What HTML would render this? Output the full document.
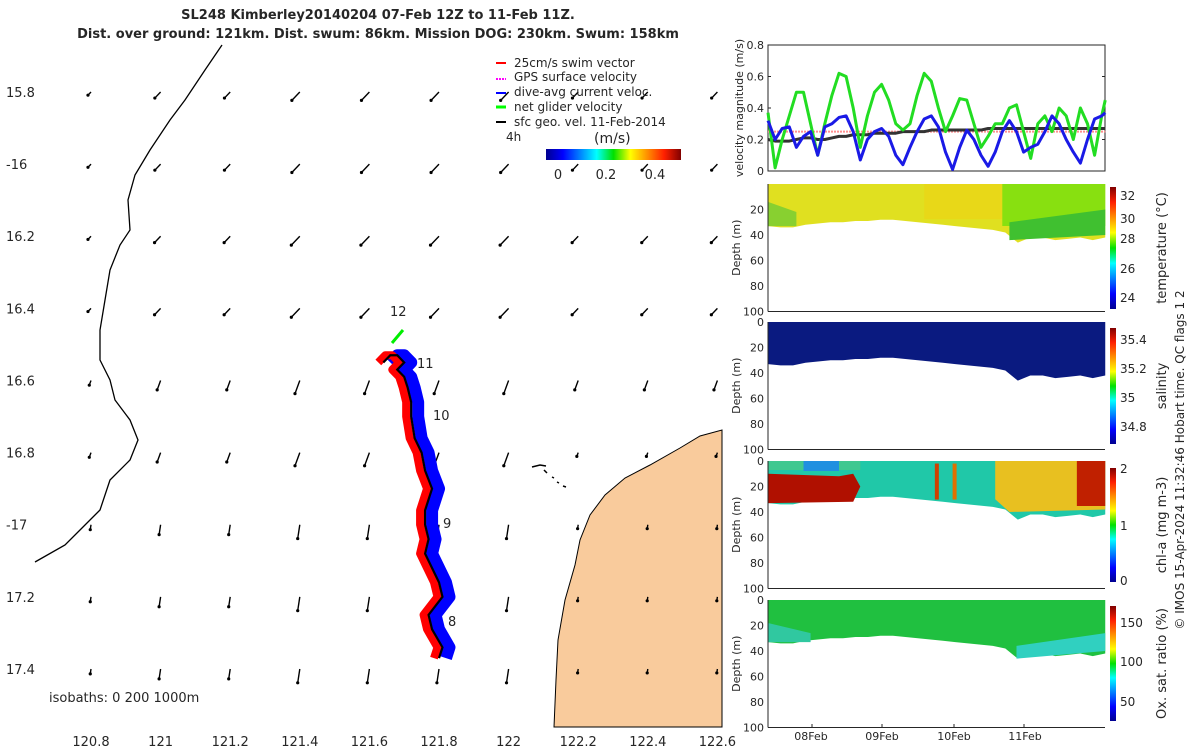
<!DOCTYPE html>
<html><head><meta charset="utf-8"><style>
body{margin:0;background:#fff;}
svg text{font-family:"DejaVu Sans","Liberation Sans",sans-serif;fill:#262626;}
</style></head><body>
<svg id="chart" width="1200" height="750" viewBox="0 0 1200 750" xmlns="http://www.w3.org/2000/svg">
<defs>
<linearGradient id="jetH" x1="0" x2="1" y1="0" y2="0">
<stop offset="0" stop-color="#00008f"/><stop offset="0.125" stop-color="#0000ff"/><stop offset="0.375" stop-color="#00ffff"/><stop offset="0.5" stop-color="#00e000"/><stop offset="0.625" stop-color="#ffff00"/><stop offset="0.875" stop-color="#ff2000"/><stop offset="1" stop-color="#800000"/></linearGradient>
<linearGradient id="jetV" x1="0" x2="0" y1="1" y2="0">
<stop offset="0" stop-color="#00008f"/><stop offset="0.125" stop-color="#0000ff"/><stop offset="0.375" stop-color="#00ffff"/><stop offset="0.5" stop-color="#00e000"/><stop offset="0.625" stop-color="#ffff00"/><stop offset="0.875" stop-color="#ff2000"/><stop offset="1" stop-color="#800000"/></linearGradient>
</defs>
<g>
<text x="378" y="19" font-size="13" font-weight="bold" text-anchor="middle" fill="#000">SL248 Kimberley20140204 07-Feb 12Z to 11-Feb 11Z.</text>
<text x="378" y="38" font-size="13" font-weight="bold" text-anchor="middle" fill="#000">Dist. over ground: 121km. Dist. swum: 86km. Mission DOG: 230km. Swum: 158km</text>
</g>
<g id="map">
<polygon fill="#f9cb9c" stroke="#000" stroke-width="1" points="554,727 556,680 558,640 565,600 575,565 580,540 590,515 605,495 625,478 650,465 680,448 700,436 722,430 722,727"/>
<polyline fill="none" stroke="#000" stroke-width="1.3" points="222,45 205,70 185,100 170,120 150,150 135,175 128,200 130,230 120,245 110,270 105,300 100,330 100,360 110,380 115,400 130,420 138,440 130,460 110,480 100,510 80,530 65,545 35,562"/>
<path d="M532,467 l8,-2 l6,1 M544,470 l3,3 M552,477 l2,1 M557,482 l2,1 M563,486 l3,1" stroke="#000" stroke-width="1.5" fill="none"/>
<g id="arrows"></g>
<g id="track"></g>
<g font-size="13">
<text x="390" y="316">12</text><text x="417" y="368">11</text><text x="433" y="420">10</text><text x="443" y="528">9</text><text x="448" y="626">8</text>
</g>
<text x="49" y="702" font-size="13">isobaths: 0   200  1000m</text>
<g id="mapaxes" font-size="13"></g>
<g font-size="12">
<line x1="496" y1="63" x2="506" y2="63" stroke="#f00" stroke-width="2"/><text x="514" y="67">25cm/s swim vector</text>
<line x1="496" y1="79" x2="506" y2="79" stroke="#f0f" stroke-width="2" stroke-dasharray="2,1"/><text x="514" y="81">GPS surface velocity</text>
<line x1="496" y1="93" x2="506" y2="93" stroke="#00f" stroke-width="2"/><text x="514" y="96">dive-avg current veloc.</text>
<line x1="496" y1="107" x2="506" y2="107" stroke="#0f0" stroke-width="3"/><text x="514" y="111">net glider velocity</text>
<line x1="496" y1="122" x2="506" y2="122" stroke="#000" stroke-width="2"/><text x="514" y="126">sfc geo. vel. 11-Feb-2014</text>
<text x="506" y="141">4h</text>
</g>
<g>
<text x="594" y="143" font-size="14">(m/s)</text>
<rect x="546" y="149" width="135" height="11" fill="url(#jetH)"/>
<text x="558" y="179" font-size="13" text-anchor="middle">0</text><text x="606" y="179" font-size="13" text-anchor="middle">0.2</text><text x="655" y="179" font-size="13" text-anchor="middle">0.4</text>
</g>
</g>
<g id="vel"></g>
<g id="sections"></g>
<g font-size="11" text-anchor="middle">
<text x="811" y="740">08Feb</text><text x="882" y="740">09Feb</text><text x="954" y="740">10Feb</text><text x="1025" y="740">11Feb</text>
</g>
<text transform="translate(1184,460) rotate(-90)" font-size="12" text-anchor="middle">© IMOS 15-Apr-2024 11:32:46 Hobart time. QC flags 1  2</text>
</svg>
<script>
const velTimes=[0,2,4,6,8,10,12,14,16,18,20,22,24,26,28,30,32,34,36,38,40,42,44,46,48,50,52,54,56,58,60,62,64,66,68,70,72,74,76,78,80,82,84,86,88,90,92,94,95];
const netGlider=[0.37,0.02,0.2,0.35,0.5,0.5,0.3,0.1,0.3,0.48,0.62,0.6,0.4,0.15,0.35,0.5,0.55,0.45,0.3,0.26,0.3,0.48,0.62,0.57,0.4,0.25,0.35,0.46,0.45,0.3,0.15,0.22,0.3,0.3,0.4,0.42,0.25,0.08,0.3,0.35,0.25,0.4,0.35,0.2,0.4,0.3,0.1,0.35,0.45];
const diveAvg=[0.32,0.2,0.27,0.28,0.15,0.22,0.25,0.1,0.28,0.3,0.34,0.35,0.25,0.07,0.2,0.25,0.27,0.22,0.1,0.04,0.15,0.25,0.33,0.35,0.28,0.12,0.01,0.15,0.26,0.2,0.1,0.03,0.12,0.25,0.32,0.25,0.12,0.15,0.17,0.25,0.35,0.3,0.2,0.12,0.05,0.2,0.33,0.35,0.37];
const geoVel=[0.2,0.19,0.19,0.19,0.2,0.21,0.21,0.2,0.2,0.21,0.22,0.22,0.23,0.23,0.23,0.24,0.24,0.24,0.24,0.25,0.25,0.25,0.25,0.26,0.26,0.26,0.26,0.26,0.26,0.26,0.26,0.27,0.27,0.27,0.27,0.27,0.27,0.27,0.27,0.27,0.27,0.27,0.27,0.27,0.27,0.27,0.27,0.27,0.27];
const swimSpeed=0.25;
const lonTicks=[120.8,121,121.2,121.4,121.6,121.8,122,122.2,122.4,122.6];
const latTicks=[15.8,16,16.2,16.4,16.6,16.8,17,17.2,17.4];
const trackLon=[121.80,121.81,121.78,121.77,121.81,121.80,121.78,121.76,121.77,121.76,121.76,121.78,121.76,121.75,121.73,121.72,121.72,121.71,121.70,121.68,121.70,121.68,121.66,121.64];
const trackLat=[17.37,17.34,17.29,17.25,17.20,17.16,17.12,17.08,17.04,17.00,16.96,16.90,16.85,16.80,16.76,16.70,16.66,16.62,16.59,16.57,16.55,16.53,16.53,16.55];
const NS='http://www.w3.org/2000/svg';
function mk(p,t,a){const e=document.createElementNS(NS,t);for(const k in a)e.setAttribute(k,a[k]);p.appendChild(e);return e;}
const lonX=v=>91+(v-120.8)*348;
const latY=v=>92+(v-15.8)*360.6;
const ma=document.getElementById('mapaxes');
lonTicks.forEach(v=>{const t=mk(ma,'text',{x:lonX(v),y:746,'text-anchor':'middle'});t.textContent=String(v);

});
latTicks.forEach(v=>{const t=mk(ma,'text',{x:6,y:latY(v)+5});t.textContent=(v%1===0)?'-'+v:String(v);

});
const ag=document.getElementById('arrows');
lonTicks.forEach((lo,i)=>latTicks.forEach((la,j)=>{
 const x=lonX(lo),y=latY(la);
 let ang=j<4?0.65:(j<6?0.35:0.15);
 let L=5+ (i>=3&&i<=6?9:5)*(j<2?0.9:1);
 if(i===0)L=5; if(i>6&&j>4)L=4;
 const dx=-Math.sin(ang)*L, dy=Math.cos(ang)*L*(j<4?0.8:1);
 const g=mk(ag,'g',{});
 
 
 mk(g,'line',{x1:x,y1:y,x2:x+dx,y2:y+dy,stroke:'#000','stroke-width':1.4});
 mk(g,'circle',{cx:x+dx,cy:y+dy,r:1.6,fill:'#000'});
}));
const tg=document.getElementById('track');
const pts=(ox)=>trackLon.map((v,k)=>(lonX(v)+ox)+','+latY(trackLat[k])).join(' ');
const b=mk(tg,'polyline',{points:pts(7),fill:'none',stroke:'#0000ff','stroke-width':12,'stroke-linejoin':'round'});


const r=mk(tg,'polyline',{points:pts(-5),fill:'none',stroke:'#ff0000','stroke-width':8,'stroke-linejoin':'round'});


const k=mk(tg,'polyline',{points:pts(0),fill:'none',stroke:'#000','stroke-width':2.2});


const gr=mk(tg,'line',{x1:392,y1:343,x2:403,y2:330,stroke:'#00ee00','stroke-width':3});


const tX=t=>768+t*3.55;
const vY=v=>171-v*157.5;
const vg=document.getElementById('vel');
mk(vg,'rect',{x:768,y:45,width:337,height:126,fill:'none',stroke:'#262626','stroke-width':1});
[0,0.2,0.4,0.6,0.8].forEach(v=>{const t=mk(vg,'text',{x:764,y:vY(v)+4,'font-size':11,'text-anchor':'end'});t.textContent=String(v);


mk(vg,'line',{x1:768,x2:771,y1:vY(v),y2:vY(v),stroke:'#262626'});mk(vg,'line',{x1:1102,x2:1105,y1:vY(v),y2:vY(v),stroke:'#262626'});});
const yl=mk(vg,'text',{transform:'translate(743,108) rotate(-90)','font-size':11,'text-anchor':'middle'});yl.textContent='velocity magnitude (m/s)';


const line=(arr,col,w,name)=>{const p=mk(vg,'polyline',{points:arr.map((v,i)=>tX(velTimes[i])+','+vY(v)).join(' '),fill:'none',stroke:col,'stroke-width':w,'stroke-linejoin':'round'});

};
mk(vg,'line',{x1:tX(0),x2:tX(95),y1:vY(swimSpeed),y2:vY(swimSpeed),stroke:'#ff9090','stroke-width':2,'stroke-dasharray':'2,1'});
line(geoVel,'#333',3,'geo-velocity-line');
line(netGlider,'#22dd22',3,'net-glider-velocity-line');
line(diveAvg,'#1a1ae6',3,'dive-avg-current-line');
const sg=document.getElementById('sections');
const panels=[
 {top:184,name:'temperature',cb:[187,309],ticks:[[24,297],[26,268],[28,238],[30,218],[32,195]],label:'temperature (°C)',base:'#e0e020'},
 {top:322,name:'salinity',cb:[328,444],ticks:[[34.8,426],[35,397],[35.2,368],[35.4,339]],label:'salinity',base:'#0a1a80'},
 {top:461,name:'chl-a',cb:[468,582],ticks:[[0,580],[1,525],[2,468]],label:'chl-a (mg m-3)',base:'#20c8a8'},
 {top:600,name:'oxygen',cb:[606,721],ticks:[[50,701],[100,661],[150,622]],label:'Ox. sat. ratio (%)',base:'#20c040'}];
const bottomDepth=[33,34,34,32,31,30,30,29,29,28,28,29,30,31,32,33,34,35,36,38,46,42,42,44,43,42,44,42];
panels.forEach((p,pi)=>{
 const dY=d=>p.top+d*1.275;
 const g=mk(sg,'g',{});
 
 
 let poly=tX(0)+','+dY(0)+' ';
 bottomDepth.forEach((d,i)=>{poly+=(tX(i*95/(bottomDepth.length-1)))+','+dY(d)+' ';});
 poly+=tX(95)+','+dY(0);
 mk(g,'polygon',{points:poly,fill:p.base});
 if(pi===0){mk(g,'polygon',{points:`${tX(0)},${dY(14)} ${tX(8)},${dY(22)} ${tX(8)},${dY(33)} ${tX(0)},${dY(33)}`,fill:'#88d030'});
  mk(g,'rect',{x:tX(44),y:dY(0),width:tX(66)-tX(44),height:35,fill:'#e8d818'});
  mk(g,'rect',{x:tX(66),y:dY(0),width:tX(95)-tX(66),height:42,fill:'#88e010'});
  mk(g,'polygon',{points:`${tX(68)},${dY(30)} ${tX(95)},${dY(20)} ${tX(95)},${dY(40)} ${tX(68)},${dY(44)}`,fill:'#40c030'});}
 if(pi===2){mk(g,'rect',{x:tX(0),y:dY(0),width:tX(26)-tX(0),height:9,fill:'#40c890'});
  mk(g,'rect',{x:tX(10),y:dY(0),width:tX(20)-tX(10),height:10,fill:'#2090e0'});
  mk(g,'polygon',{points:`${tX(0)},${dY(10)} ${tX(20)},${dY(12)} ${tX(24)},${dY(10)} ${tX(26)},${dY(20)} ${tX(24)},${dY(32)} ${tX(0)},${dY(33)}`,fill:'#b01000'});
  mk(g,'rect',{x:tX(47),y:dY(2),width:4,height:36,fill:'#d04000'});mk(g,'rect',{x:tX(52),y:dY(2),width:4,height:36,fill:'#e07000'});
  mk(g,'polygon',{points:`${tX(64)},${dY(0)} ${tX(95)},${dY(0)} ${tX(95)},${dY(38)} ${tX(68)},${dY(40)} ${tX(64)},${dY(30)}`,fill:'#e8c020'});
  mk(g,'rect',{x:tX(87),y:dY(0),width:tX(95)-tX(87),height:45,fill:'#c02000'});}
 if(pi===3){mk(g,'polygon',{points:`${tX(0)},${dY(18)} ${tX(12)},${dY(26)} ${tX(12)},${dY(33)} ${tX(0)},${dY(33)}`,fill:'#30c8a0'});
  mk(g,'polygon',{points:`${tX(70)},${dY(36)} ${tX(95)},${dY(26)} ${tX(95)},${dY(40)} ${tX(70)},${dY(46)}`,fill:'#30d0c0'});}
 mk(g,'line',{x1:768,x2:768,y1:dY(0),y2:dY(100),stroke:'#262626'});
 mk(g,'line',{x1:768,x2:1105,y1:dY(100),y2:dY(100),stroke:'#262626'});
 [0,20,40,60,80,100].forEach(d=>{if(pi===0&&d===0)return;const t=mk(g,'text',{x:764,y:dY(d)+4,'font-size':11,'text-anchor':'end'});t.textContent=String(d);
 
 });
 const yt=mk(g,'text',{transform:`translate(740,${dY(50)}) rotate(-90)`,'font-size':11,'text-anchor':'middle'});yt.textContent='Depth (m)';
 
 
 mk(g,'rect',{x:1110,y:p.cb[0],width:6,height:p.cb[1]-p.cb[0],fill:'url(#jetV)'});
 p.ticks.forEach(([v,y])=>{const t=mk(g,'text',{x:1120,y:y+5,'font-size':12});t.textContent=String(v);
 
 });
 const cl=mk(g,'text',{transform:`translate(1166,${(p.cb[0]+p.cb[1])/2}) rotate(-90)`,'font-size':13,'text-anchor':'middle'});cl.textContent=p.label;
 
 
});
[812,882,954,1024].forEach(x=>mk(sg,'line',{x1:x,x2:x,y1:724,y2:727,stroke:'#262626'}));
</script>
</body></html>
